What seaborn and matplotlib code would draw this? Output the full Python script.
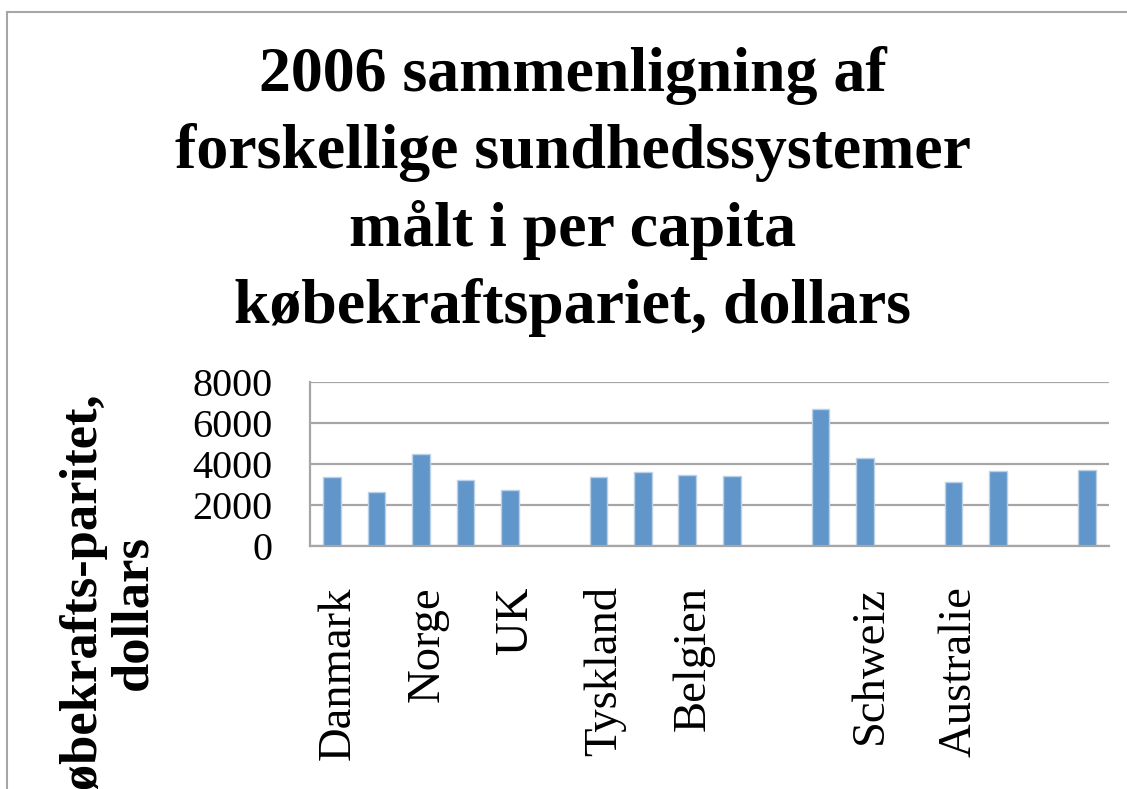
import numpy as np
import pandas as pd
import seaborn as sns
import matplotlib
matplotlib.use('Agg')
import matplotlib.pyplot as plt
import matplotlib.transforms as mtransforms
from matplotlib.patches import Rectangle

# values (per capita PPP, dollars); NaN = no bar
tick_labels = ['Danmark', '', 'Norge', '', 'UK', '', 'Tyskland', '', 'Belgien', '',
	'', '', 'Schweiz', '', 'Australie', '', '', '']
values = [3350, 2650, 4500, 3200, 2750, np.nan, 3350, 3600, 3450, 3430,
	np.nan, 6680, 4290, np.nan, 3120, 3660, np.nan, 3710]

title = '2006 sammenligning af\nforskellige sundhedssystemer\nmålt i per capita\nkøbekraftspariet, dollars'
ylabel = 'Købekrafts-paritet,\ndollars'

sns.set_style('white')
plt.rcParams['font.family'] = ['Liberation Serif', 'DejaVu Serif']
plt.rcParams['text.color'] = 'black'
plt.rcParams['xtick.color'] = 'black'
plt.rcParams['ytick.color'] = 'black'

df = pd.DataFrame({'pos': list(range(len(values))), 'value': values})

fig = plt.figure(figsize=(11.27, 7.89), dpi=100)
ax = fig.add_axes([0.2751, 0.3080, 0.7089, 0.2079])

sns.barplot(data=df, x='pos', y='value', order=list(range(len(values))),
	color='#6096C9', saturation=1, width=0.4, edgecolor='#BCD0E8', linewidth=1, ax=ax)

grid_c = '#A6A6A6'
ax.set_ylim(0, 8000)
ax.set_yticks([0, 2000, 4000, 6000, 8000])
ax.yaxis.grid(True, color=grid_c, linewidth=1.6)
ax.set_axisbelow(True)
for side in ['top', 'right']:
	ax.spines[side].set_visible(False)
for side in ['left', 'bottom']:
	ax.spines[side].set_color(grid_c)
	ax.spines[side].set_linewidth(1.6)

ax.set_xticks(range(len(values)))
ax.set_xticklabels(tick_labels, rotation=90, fontsize=33.6, va='top', ha='center')
ax.tick_params(axis='x', length=0, pad=29)
ax.tick_params(axis='y', length=0, pad=27, labelsize=29)
off = mtransforms.ScaledTranslation(6/100, 0, fig.dpi_scale_trans)
for lab in ax.get_xticklabels():
	lab.set_transform(lab.get_transform() + off)
ax.set_xlabel('')
ax.set_ylabel('')

fig.text(108/1127, 1 - 612/789, ylabel, rotation=90, ha='center', va='center',
	multialignment='center', fontsize=37.9, fontweight='bold', linespacing=1.05)

fig.text(573/1127, 1 - 46/789, title, ha='center', va='top', multialignment='center',
	fontsize=46, fontweight='bold', linespacing=1.4)

# chart frame (runs off the right and bottom edge)
fig.patches.append(Rectangle((7/1127, -0.1), 1.2, 1 - 12/789 + 0.1, transform=fig.transFigure,
	fill=False, edgecolor=grid_c, linewidth=1.5))

fig.savefig('out.png', dpi=100)
